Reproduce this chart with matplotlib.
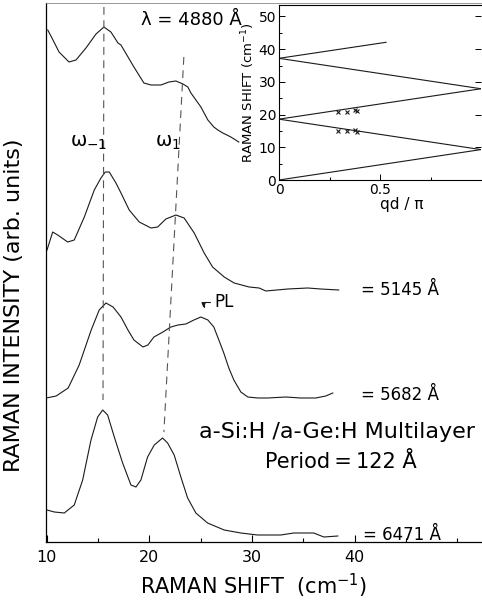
import matplotlib
matplotlib.use("Agg")
import matplotlib.pyplot as plt
import numpy as np

plt.rcParams['font.family'] = ['DejaVu Sans']
plt.rcParams['mathtext.fontset'] = 'dejavusans'

# ---------------- data ----------------
# Raman shift (cm^-1) and intensity (arb. units, vertically offset spectra)
x_4880 = [10.12, 10.63, 11.22, 12.19, 12.87, 13.84, 14.82, 15.59, 16.27, 16.96, 17.25, 18.22,
          18.51, 19.48, 20.17, 21.14, 21.92, 22.60, 23.28, 23.76, 24.06, 25.03, 25.71, 26.29,
          26.68, 27.17, 27.95, 28.72]
y_4880 = [512, 502, 490, 480, 482, 494, 508, 515, 510, 499, 497, 480,
          475, 459, 457, 457, 460, 461, 458, 455, 449, 435, 422, 415,
          412, 409, 405, 400]

x_5145 = [10.05, 10.60, 11.09, 12.06, 12.70, 13.68, 14.65, 15.30, 15.72, 16.11, 16.76, 17.25,
          18.05, 19.03, 20.17, 20.82, 21.62, 22.60, 23.40, 24.38, 25.35, 26.17, 27.30, 28.27,
          29.73, 30.70, 31.35, 33.49, 35.43, 36.70, 38.45]
y_5145 = [292, 310, 307, 300, 302, 325, 352, 364, 370, 370, 359, 349,
          332, 320, 314, 315, 323, 327, 324, 309, 289, 275, 265, 259,
          255, 254, 251, 253, 254, 253, 252]

x_5682 = [9.97, 10.94, 12.11, 13.18, 14.35, 15.13, 15.79, 16.48, 17.25, 17.93, 18.51, 19.39,
          19.87, 20.46, 21.33, 22.11, 22.80, 23.57, 24.35, 25.03, 25.71, 26.29, 26.78, 27.26,
          27.75, 28.24, 28.92, 29.60, 30.57, 31.54, 33.30, 34.75, 36.21, 37.19, 37.87]
y_5682 = [144, 146, 154, 177, 212, 232, 239, 235, 225, 212, 202, 195,
          197, 205, 210, 215, 217, 218, 222, 225, 222, 215, 202, 189,
          174, 162, 150, 145, 144, 144, 145, 144, 144, 146, 149]

x_6471 = [10.05, 10.76, 11.73, 12.70, 13.52, 14.33, 14.98, 15.47, 15.95, 16.60, 17.41, 18.22,
          18.71, 19.19, 19.84, 20.49, 21.30, 21.79, 22.43, 23.08, 23.74, 24.54, 25.68, 27.30,
          28.92, 30.54, 32.81, 34.07, 35.43, 36.02, 37.00, 38.36]
y_6471 = [32, 30, 29, 37, 62, 102, 125, 132, 127, 105, 79, 57,
          55, 62, 85, 97, 104, 99, 87, 65, 44, 29, 19, 12,
          9, 7, 7, 9, 9, 9, 5, 6]

spectra = [(x_4880, y_4880), (x_5145, y_5145), (x_5682, y_5682), (x_6471, y_6471)]

# guide lines for the omega_-1 and omega_1 modes (x, intensity)
w_m1_x = [15.59, 15.50]
w_m1_y = [535, 142]
w_1_x = [23.37, 21.43]
w_1_y = [485, 110]

# inset: folded acoustic phonon dispersion
branch_q = [[0.0, 1.0], [0.0, 1.0], [0.0, 1.0], [0.0, 1.0], [0.0, 0.53]]
branch_w = [[0.0, 9.3], [18.6, 9.3], [18.6, 27.9], [37.2, 27.9], [37.2, 42.1]]
cross_q = [0.29, 0.335, 0.376, 0.387, 0.29, 0.335, 0.376, 0.387]
cross_w = [20.7, 20.9, 21.4, 21.1, 15.1, 15.1, 15.2, 14.6]

main_ticks = [10, 20, 30, 40]
main_minor = [15, 25, 35, 45, 50]

# ---------------- figure ----------------
fig = plt.figure(figsize=(4.82, 6.0), dpi=100)
ax = fig.add_axes([46/482, 58/600, 436/482, 539/600])

lc = '#1a1a1a'
for xs, ys in spectra:
    ax.plot(xs, ys, color=lc, lw=0.8)

ax.plot(w_m1_x, w_m1_y, color='#555555', lw=0.8, dashes=(7, 5))
ax.plot(w_1_x, w_1_y, color='#555555', lw=0.8, dashes=(7, 5))

ax.set_xlim(9.95, 52.4)
ax.set_ylim(0, 539)
ax.set_xticks(main_ticks)
ax.set_xticks(main_minor, minor=True)
ax.tick_params(axis='x', which='major', direction='in', length=5, width=0.8, labelsize=11.5, pad=6)
ax.tick_params(axis='x', which='minor', direction='in', length=3, width=0.8)
ax.set_yticks([])
ax.spines['right'].set_visible(False)
ax.spines['top'].set_color('#888888')
ax.spines['top'].set_linewidth(0.6)
ax.spines['left'].set_linewidth(0.9)
ax.spines['bottom'].set_linewidth(0.9)

ax.set_xlabel(r'RAMAN SHIFT  (cm$^{-1}$)', fontsize=15)
ax.xaxis.set_label_coords(0.475, -0.055)
ax.set_ylabel('RAMAN INTENSITY (arb. units)', fontsize=16)
ax.yaxis.set_label_coords(-0.05, 0.44)

ax.text(19.2, 522, 'λ = 4880 Å', fontsize=13, ha='left', va='center')
ax.text(14.1, 399, r'ω$_{-1}$', fontsize=14, ha='center', va='center')
ax.text(21.8, 399, r'ω$_{1}$', fontsize=14, ha='center', va='center')
ax.text(40.6, 252, '= 5145 Å', fontsize=12, ha='left', va='center')
ax.text(40.6, 147, '= 5682 Å', fontsize=12, ha='left', va='center')
ax.text(40.8, 7, '= 6471 Å', fontsize=12, ha='left', va='center')
ax.text(26.3, 240, 'PL', fontsize=12, ha='left', va='center')
ax.annotate('', xy=(25.3, 231), xytext=(26.2, 240),
            arrowprops=dict(arrowstyle='-|>,head_length=0.3,head_width=0.12', lw=0.8,
                            color=lc, connectionstyle='angle,angleA=0,angleB=90,rad=0'))
ax.text(38.3, 110, 'a-Si:H /a-Ge:H Multilayer', fontsize=16, ha='center', va='center')
ax.text(38.7, 80, 'Period\u2009=\u2009122 Å', fontsize=15, ha='center', va='center')

# ---------------- inset ----------------
axi = fig.add_axes([279/482, 420/600, 202/482, 175/600])
for q, w in zip(branch_q, branch_w):
    axi.plot(q, w, color=lc, lw=0.8)
axi.plot(cross_q, cross_w, linestyle='none', marker='x', markersize=3.5, mew=0.8, color=lc)
axi.set_xlim(0, 1.0)
axi.set_ylim(0, 53.5)
axi.set_xticks([0, 0.5])
axi.set_xticks([0.25, 0.75], minor=True)
axi.set_xticklabels(['0', '0.5'])
axi.set_yticks([0, 10, 20, 30, 40, 50])
axi.set_yticks([5, 15, 25, 35, 45], minor=True)
axi.tick_params(axis='both', which='major', direction='in', length=4, width=0.7,
                labelsize=10, pad=2, right=True)
axi.tick_params(axis='both', which='minor', direction='in', length=2, width=0.7)
axi.tick_params(axis='y', labelright=False)
for s in axi.spines.values():
    s.set_linewidth(0.8)
axi.spines['right'].set_visible(False)
axi.set_xlabel('qd / π', fontsize=11)
axi.xaxis.set_label_coords(0.61, -0.1)
axi.set_ylabel(r'RAMAN SHIFT (cm$^{-1}$)', fontsize=9.5, labelpad=1)

fig.savefig('out.png', dpi=100)
